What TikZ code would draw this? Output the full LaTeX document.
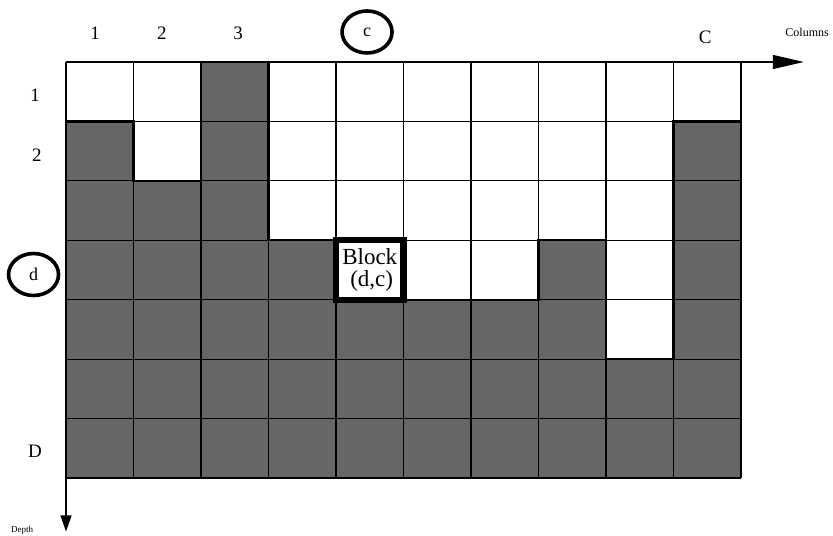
\documentclass[tikz,border=0pt]{standalone}
\usepackage{fontspec}
\setmainfont{Liberation Serif}
\usepackage{tikz}
\usetikzlibrary{arrows.meta,shapes.geometric}

\begin{document}
\begin{tikzpicture}[
  x=33.75pt, y=-29.715pt,
  cell/.style={draw=black, line width=0.55pt},
  soil/.style={fill=black!60},
  profile/.style={line width=1.1pt, line join=miter},
  lbl/.style={inner sep=0pt, font=\fontsize{9.5}{11}\selectfont},
  small/.style={inner sep=0pt, font=\fontsize{6}{7}\selectfont},
  circ/.style={ellipse, draw, line width=1.8pt, minimum width=25pt, minimum height=21pt, inner sep=0pt, font=\fontsize{9}{10}\selectfont},
  blk/.style={rectangle, draw, fill=white, line width=3.2pt, minimum width=33.75pt, minimum height=29.715pt, inner sep=0pt, align=center, font=\fontsize{11.5}{11}\selectfont},
  axis/.style={line width=0.6pt}
]
\useasboundingbox (-0.978,-1.043) rectangle (11.363,7.976);

% material below the surface
\fill[soil] (0,1) -- (1,1) -- (1,2) -- (2,2) -- (2,0) -- (3,0) -- (3,3) -- (4,3) -- (4,4) -- (7,4) -- (7,3) -- (8,3) -- (8,5) -- (9,5) -- (9,1) -- (10,1) -- (10,7) -- (0,7) -- cycle;
\foreach \i in {0,...,10}
  \draw[cell] (\i,0) -- (\i,7);
\foreach \j in {0,...,7}
  \draw[cell] (0,\j) -- (10,\j);
\draw[profile] (0,1) -- (1,1) -- (1,2) -- (2,2) -- (2,0) -- (3,0) -- (3,3) -- (4,3) -- (4,4) -- (7,4) -- (7,3) -- (8,3) -- (8,5) -- (9,5) -- (9,1) -- (10,1);

\node[blk] (blk) at (4.5,3.5) {Block\\\,(d,c)};

% axes
\coordinate (o) at (0,0);
\coordinate (xend) at (10.93,0);
\coordinate (yend) at (0,7.9);
\draw[axis, -{Triangle[length=15.5pt,width=7pt]}] (o) -- (xend);
\draw[axis, -{Triangle[length=8pt,width=5.5pt]}] (o) -- (yend);

\node[lbl] (c1) at (0.43,-0.49) {1};
\node[lbl] (c2) at (1.42,-0.49) {2};
\node[lbl] (c3) at (2.55,-0.49) {3};
\node[circ] (cc) at (4.46,-0.505) {c};
\node[lbl] (cC) at (9.47,-0.41) {C};
\node[small] (cols) at (10.98,-0.49) {Columns};

\node[lbl] (r1) at (-0.459,0.555) {1};
\node[lbl] (r2) at (-0.43,1.565) {2};
\node[circ] (rd) at (-0.481,3.576) {d};
\node[lbl] (rD) at (-0.459,6.545) {D};
\node[inner sep=0pt, font=\fontsize{4.5}{5}\selectfont] (depth) at (-0.65,7.875) {Depth};

\end{tikzpicture}
\end{document}
